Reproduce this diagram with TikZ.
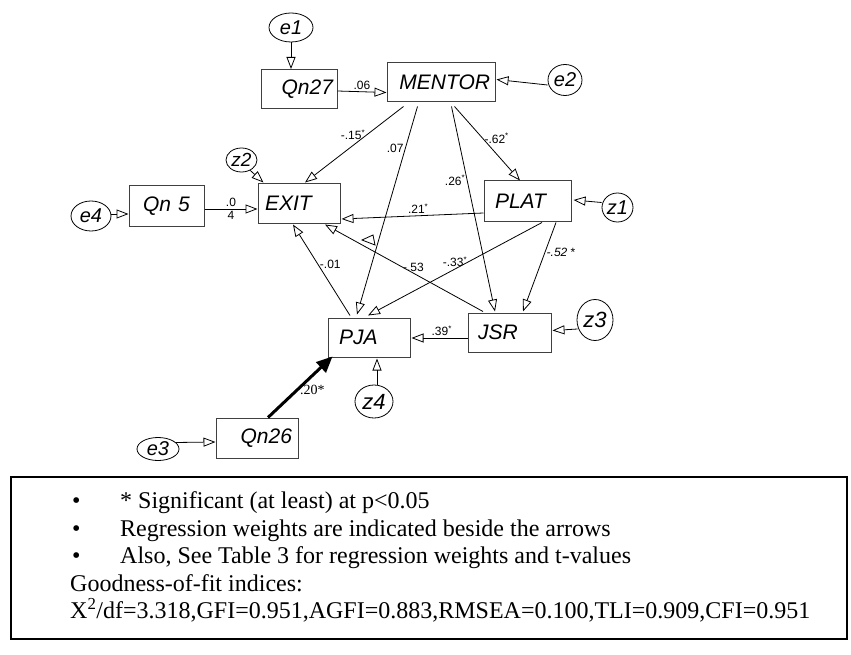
\documentclass[tikz,border=0pt]{standalone}
\usepackage{fontspec}
\setmainfont{Liberation Serif}
\setsansfont{Liberation Sans}
\usetikzlibrary{arrows.meta,shapes.geometric,calc}

\begin{document}
\begin{tikzpicture}[x=1pt, y=-1pt,
    >={Triangle[open, length=12pt, width=9pt]},
    box/.style={draw=black!75, line width=1pt, inner ysep=0pt, minimum height=39pt,
        font=\sffamily\itshape\fontsize{21}{21}\selectfont},
    err/.style={draw, ellipse, line width=.8pt, inner sep=0pt,
        font=\sffamily\itshape\fontsize{20}{20}\selectfont},
    lab/.style={font=\sffamily\fontsize{12}{12}\selectfont, inner sep=1.5pt},
    arr/.style={->, line width=.8pt},
    strong/.style={-{Triangle[length=16pt, width=14pt]}, line width=3pt}]
\useasboundingbox (0,0) rectangle (851,655);

    % observed variables
    \node[box, text width=68pt, align=right, inner xsep=4pt] (qn27) at (299,89) {Qn27};
    \node[box, text width=98pt, align=right, inner xsep=5pt] (mentor) at (441,82.5) {MENTOR};
    \node[box, text width=68pt, align=left, inner xsep=7pt] (exit) at (299,203.5) {EXIT};
    \node[box, text width=65pt, align=left, inner xsep=11pt, minimum height=40pt] (plat) at (527.5,201) {PLAT};
    \node[box, text width=65pt, align=center, inner xsep=5pt, minimum height=40pt] (qn5) at (166.5,206) {Qn 5};
    \node[box, text width=63pt, align=left, inner xsep=10pt] (jsr) at (509.5,332.5) {JSR};
    \node[box, text width=60pt, align=left, inner xsep=11pt] (pja) at (369,337.5) {PJA};
    \node[box, text width=70pt, align=right, inner xsep=6pt, minimum height=40pt] (qn26) at (257,438) {Qn26};

    % error terms
    \node[err, minimum width=44pt, minimum height=29pt] (e1) at (291,27.5) {e1};
    \node[err, minimum width=34pt, minimum height=31pt] (e2) at (565,80) {e2};
    \node[err, minimum width=31pt, minimum height=24pt, font=\sffamily\itshape\fontsize{19}{19}\selectfont] (z2) at (241.5,160) {z2};
    \node[err, minimum width=40pt, minimum height=30pt] (e4) at (91,216) {e4};
    \node[err, minimum width=31pt, minimum height=29pt] (z1) at (617.5,207.5) {z1};
    \node[err, minimum width=36pt, minimum height=41pt, font=\sffamily\itshape\fontsize{22}{22}\selectfont] (z3) at (595,320) {z3};
    \node[err, minimum width=38pt, minimum height=33pt, font=\sffamily\itshape\fontsize{22}{22}\selectfont] (z4) at (374,401.5) {z4};
    \node[err, minimum width=42pt, minimum height=23pt] (e3) at (158,449) {e3};

    % errors to variables
    \path[arr] (e1.south) edge (e1.south |- qn27.north);
    \path[arr] ($(e2.west)+(0,5)$) edge ($(mentor.east)+(1,-3)$);
    \path[arr] (z2.-50) edge ($(exit.north west)+(6,-1)$);
    \path[arr] ($(e4.east)+(0,-2)$) edge ($(qn5.west)+(0,8)$);
    \path[arr] ($(z1.west)+(0,-5)$) edge ($(plat.east)+(2,-1)$);
    \path[arr] ($(z3.west)+(1,9)$) edge ($(jsr.east)+(1,-2)$);
    \path[arr] ($(z4.north)+(3,0)$) edge ($(pja.south)+(8,1)$);
    \path[arr] (e3.20) edge ($(qn26.west)+(0,4)$);

    % paths
    \path[arr] ($(qn27.east)+(0,2)$) edge node[lab, midway, above]{.06} ($(mentor.west)+(0,10)$);
    \path[arr] ($(mentor.south west)+(17,4)$) edge node[lab, pos=.37, left]{-.15\textsuperscript{*}} ($(exit.north)+(6,-1)$);
    \path[arr] ($(mentor.south west)+(31,4)$) edge node[lab, pos=.2, left]{.07} ($(pja.north)+(-12,-3)$);
    \path[arr] ($(mentor.south west)+(65,4)$) edge node[lab, pos=.36, left]{.26\textsuperscript{*}} ($(jsr.north)+(-14.5,-1)$);
    \path[arr] ($(mentor.south west)+(68,4)$) edge node[lab, pos=.43, right]{-.62\textsuperscript{*}} ($(plat.north)+(-7.5,0)$);
    \path[arr] ($(qn5.east)+(0,3)$) edge node[lab, midway, above]{.0} node[lab, midway, below]{4} ($(exit.west)+(0,5.5)$);
    \path[arr] ($(plat.west)+(0,12)$) edge node[lab, pos=.46, above]{.21\textsuperscript{*}} ($(exit.east)+(1,15.5)$);
    \path[arr] ($(plat.south)+(28.5,1)$) edge node[lab, pos=.34, right]{\textit{-.52} *} ($(jsr.north)+(13.5,-1)$);
    \path[arr] ($(plat.south)+(14.5,1)$) edge node[lab, pos=.5, above]{-.33\textsuperscript{*}} ($(pja.north)+(-1,-2)$);
    \path[arr] ($(jsr.west)+(0,5.5)$) edge node[lab, pos=.46, above]{.39\textsuperscript{*}} ($(pja.east)+(1,0.5)$);
    \path[arr] ($(jsr.north)+(-26.5,-1)$) edge node[lab, pos=.44, above]{-.53} ($(exit.south)+(26,1)$);
    \path[arr] ($(pja.north)+(-19,-2)$) edge node[lab, pos=.56, right]{-.01} ($(exit.south)+(-6,1)$);
    \path[strong] ($(qn26.north)+(11,0)$) edge node[lab, pos=.45, right, font=\rmfamily\fontsize{14}{14}\selectfont]{.20*} ($(pja.south west)+(5,-1)$);

    \draw[line width=.8pt] (362,240) -- (373,235) -- (375,245) -- cycle;

    % notes
    \node[draw, line width=2pt, minimum width=836pt, minimum height=162pt] (legend) at (429,558) {};
    \node[anchor=west, align=left, inner sep=0pt, font=\fontsize{24}{27.5}\selectfont] (notes) at (70,557) {%
        \makebox[50pt][l]{\hspace{2pt}\textbullet}* Significant (at least) at p<0.05\\
        \makebox[50pt][l]{\hspace{2pt}\textbullet}Regression weights are indicated beside the arrows\\
        \makebox[50pt][l]{\hspace{2pt}\textbullet}Also, See Table 3 for regression weights and t-values\\
        Goodness-of-fit indices:\\
        X\textsuperscript{2}/df=3.318,GFI=0.951,AGFI=0.883,RMSEA=0.100,TLI=0.909,CFI=0.951};
\end{tikzpicture}
\end{document}
